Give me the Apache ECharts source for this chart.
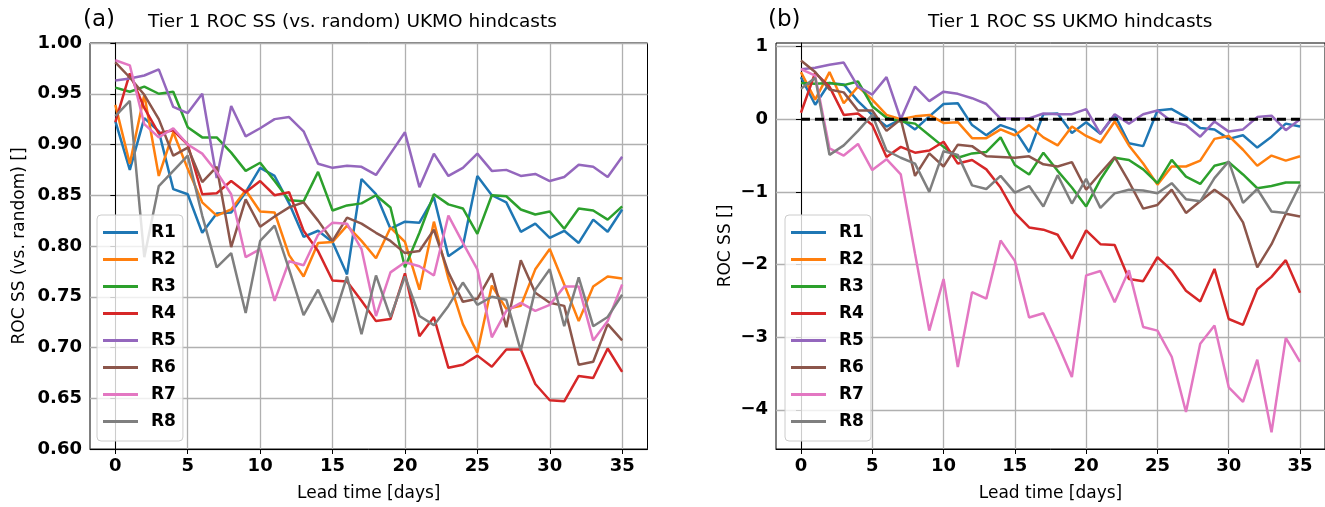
<!DOCTYPE html>
<html><head><meta charset="utf-8">
<script src="https://cdn.jsdelivr.net/npm/echarts@6/dist/echarts.min.js"></script>
<style>html,body{margin:0;padding:0;background:#fff}#c{width:1325px;height:507px}</style>
</head><body><div id="c"></div>
<script>
// ---------------- data ----------------
const lead = [0,1,2,3,4,5,6,7,8,9,10,11,12,13,14,15,16,17,18,19,20,21,22,23,24,25,26,27,28,29,30,31,32,33,34,35];
const seriesNames = ['R1','R2','R3','R4','R5','R6','R7','R8'];
const xTicks = [0,5,10,15,20,25,30,35];
const yTicksA = [0.60,0.65,0.70,0.75,0.80,0.85,0.90,0.95,1.00];
const yTicksB = [-4,-3,-2,-1,0,1];

// panel (a): ROC SS vs random
const a_R1 = [0.923,0.875,0.926,0.913,0.856,0.851,0.813,0.832,0.833,0.853,0.877,0.869,0.842,0.809,0.815,0.804,0.772,0.866,0.851,0.817,0.824,0.823,0.848,0.790,0.800,0.869,0.850,0.843,0.814,0.822,0.808,0.815,0.803,0.826,0.814,0.836];
const a_R2 = [0.939,0.881,0.949,0.869,0.912,0.876,0.843,0.830,0.836,0.855,0.834,0.833,0.791,0.770,0.803,0.804,0.820,0.805,0.788,0.818,0.804,0.757,0.824,0.768,0.723,0.695,0.761,0.738,0.741,0.777,0.797,0.762,0.726,0.760,0.770,0.768];
const a_R3 = [0.956,0.952,0.957,0.950,0.952,0.917,0.907,0.907,0.892,0.874,0.882,0.864,0.845,0.844,0.873,0.835,0.840,0.842,0.850,0.838,0.779,0.813,0.851,0.841,0.837,0.812,0.850,0.849,0.836,0.831,0.834,0.817,0.837,0.835,0.826,0.839];
const a_R4 = [0.922,0.970,0.936,0.911,0.914,0.900,0.851,0.852,0.864,0.853,0.864,0.850,0.853,0.815,0.795,0.766,0.765,0.746,0.726,0.728,0.773,0.711,0.730,0.680,0.683,0.692,0.681,0.698,0.698,0.664,0.648,0.647,0.672,0.670,0.699,0.676];
const a_R5 = [0.963,0.965,0.968,0.974,0.937,0.931,0.950,0.867,0.938,0.908,0.916,0.925,0.927,0.913,0.881,0.877,0.879,0.878,0.870,0.891,0.912,0.858,0.891,0.869,0.877,0.891,0.874,0.875,0.869,0.871,0.864,0.868,0.880,0.878,0.868,0.888];
const a_R6 = [0.981,0.966,0.949,0.925,0.889,0.897,0.863,0.878,0.799,0.846,0.819,0.829,0.838,0.843,0.825,0.805,0.828,0.822,0.813,0.805,0.793,0.795,0.816,0.774,0.745,0.748,0.773,0.720,0.786,0.754,0.744,0.741,0.683,0.686,0.723,0.707];
const a_R7 = [0.983,0.978,0.920,0.907,0.916,0.900,0.891,0.873,0.851,0.789,0.797,0.746,0.785,0.781,0.811,0.823,0.822,0.797,0.731,0.774,0.784,0.780,0.771,0.830,0.803,0.777,0.710,0.736,0.744,0.736,0.742,0.760,0.760,0.707,0.726,0.762];
const a_R8 = [0.928,0.943,0.789,0.859,0.874,0.889,0.830,0.779,0.793,0.734,0.805,0.820,0.777,0.732,0.757,0.725,0.770,0.713,0.771,0.730,0.770,0.731,0.722,0.741,0.764,0.742,0.750,0.747,0.697,0.757,0.777,0.721,0.769,0.721,0.730,0.752];

// panel (b): ROC SS
const b_R1 = [0.58,0.20,0.50,0.48,0.25,0.06,-0.10,0.00,-0.14,0.04,0.21,0.22,-0.08,-0.22,-0.08,-0.15,-0.45,0.07,0.08,-0.19,-0.04,-0.20,0.06,-0.33,-0.37,0.12,0.14,0.03,-0.12,-0.14,-0.27,-0.22,-0.39,-0.24,-0.06,-0.10];
const b_R2 = [0.65,0.27,0.65,0.22,0.45,0.27,0.06,0.00,0.04,0.06,-0.05,-0.04,-0.26,-0.26,-0.14,-0.22,-0.08,-0.25,-0.36,-0.10,-0.23,-0.32,-0.03,-0.36,-0.61,-0.90,-0.65,-0.65,-0.57,-0.27,-0.23,-0.42,-0.64,-0.50,-0.57,-0.51];
const b_R3 = [0.50,0.49,0.50,0.47,0.52,0.18,0.02,-0.03,-0.06,-0.22,-0.38,-0.53,-0.47,-0.45,-0.25,-0.63,-0.76,-0.46,-0.71,-0.94,-1.20,-0.83,-0.53,-0.56,-0.69,-0.88,-0.56,-0.79,-0.89,-0.64,-0.59,-0.76,-0.95,-0.92,-0.87,-0.87];
const b_R4 = [0.09,0.64,0.45,0.06,0.08,-0.08,-0.52,-0.38,-0.46,-0.43,-0.31,-0.61,-0.56,-0.69,-0.94,-1.29,-1.49,-1.52,-1.59,-1.92,-1.53,-1.72,-1.73,-2.20,-2.23,-1.90,-2.08,-2.36,-2.51,-2.06,-2.75,-2.83,-2.34,-2.17,-1.94,-2.39];
const b_R5 = [0.69,0.71,0.75,0.78,0.45,0.34,0.58,0.00,0.45,0.25,0.38,0.35,0.29,0.21,0.01,0.01,0.01,0.08,0.07,0.07,0.14,-0.20,0.07,-0.06,0.07,0.12,-0.03,-0.08,-0.24,-0.03,-0.17,-0.14,0.03,0.05,-0.15,0.00];
const b_R6 = [0.81,0.65,0.41,0.37,0.12,0.12,-0.16,0.00,-0.78,-0.47,-0.65,-0.35,-0.37,-0.51,-0.52,-0.53,-0.51,-0.62,-0.65,-0.59,-0.97,-0.74,-0.52,-0.86,-1.23,-1.18,-0.97,-1.29,-1.13,-0.97,-1.11,-1.42,-2.04,-1.72,-1.30,-1.34];
const b_R7 = [0.69,0.60,-0.40,-0.50,-0.34,-0.70,-0.55,-0.76,-1.85,-2.91,-2.20,-3.41,-2.38,-2.47,-1.67,-1.95,-2.73,-2.67,-3.09,-3.55,-2.15,-2.09,-2.52,-2.08,-2.86,-2.91,-3.27,-4.03,-3.09,-2.84,-3.69,-3.89,-3.31,-4.31,-3.01,-3.34];
const b_R8 = [0.42,0.57,-0.49,-0.36,-0.16,0.06,-0.43,-0.53,-0.61,-1.00,-0.44,-0.49,-0.91,-0.96,-0.78,-1.01,-0.92,-1.20,-0.77,-1.16,-0.82,-1.22,-1.02,-0.97,-0.98,-1.02,-0.88,-1.10,-1.13,-0.81,-0.58,-1.15,-0.96,-1.27,-1.29,-0.90];
const zeroLine = [0,0];

// ---------------- chart ----------------
const panelA = [a_R1,a_R2,a_R3,a_R4,a_R5,a_R6,a_R7,a_R8];
const panelB = [b_R1,b_R2,b_R3,b_R4,b_R5,b_R6,b_R7,b_R8];
const colors = ['#1f77b4','#ff7f0e','#2ca02c','#d62728','#9467bd','#8c564b','#e377c2','#7f7f7f'];
const FF = "'DejaVu Sans', sans-serif";
const minus = v => (v < 0 ? '\u2212' + Math.abs(v) : String(v));

function xAxisCfg(gi) {
  return {
    type: 'value', gridIndex: gi, min: -1.75, max: 36.75,
    name: 'Lead time [days]', nameLocation: 'middle', nameGap: 36,
    nameTextStyle: {fontFamily: FF, fontSize: 17, color: '#000'},
    axisLine: {show: true, onZero: false, lineStyle: {color: '#000', width: 1}},
    axisTick: {show: true, length: 5, customValues: xTicks, lineStyle: {color: '#000', width: 1}},
    axisLabel: {customValues: xTicks, fontFamily: FF, fontSize: 18, fontWeight: 'bold', color: '#000', margin: 8},
    splitLine: {show: true, lineStyle: {color: '#b0b0b0', width: 1.3}}
  };
}
function yAxisCfg(gi, min, max, ticks, fmt, name, gap) {
  return {
    type: 'value', gridIndex: gi, min: min, max: max,
    name: name, nameLocation: 'middle', nameGap: gap, nameRotate: 90,
    nameTextStyle: {fontFamily: FF, fontSize: 17, color: '#000'},
    axisLine: {show: true, lineStyle: {color: '#000', width: 1}},
    axisTick: {show: true, length: 5, customValues: ticks, lineStyle: {color: '#000', width: 1}},
    axisLabel: {customValues: ticks, formatter: fmt, fontFamily: FF, fontSize: 18, fontWeight: 'bold', color: '#000', margin: 8},
    splitLine: {show: true, lineStyle: {color: '#b0b0b0', width: 1.3}}
  };
}
function legendCfg(left) {
  return {
    orient: 'vertical', left: left, top: 215, data: seriesNames,
    icon: 'rect', itemWidth: 35, itemHeight: 3, itemGap: 10,
    padding: [9, 7, 11, 6],
    backgroundColor: 'rgba(255,255,255,0.8)', borderColor: '#cccccc', borderWidth: 1, borderRadius: 4,
    textStyle: {fontFamily: FF, fontSize: 17, fontWeight: 'bold', color: '#000', lineHeight: 17, padding: [0, 0, 0, 8]},
    selectedMode: false
  };
}
const series = [];
seriesNames.forEach((n, k) => {
  series.push({name: n, type: 'line', xAxisIndex: 0, yAxisIndex: 0, symbol: 'none',
    data: lead.map((d, i) => [d, panelA[k][i]]), color: colors[k],
    lineStyle: {width: 2.5, color: colors[k]}, z: 2 + k * 0.01});
});
seriesNames.forEach((n, k) => {
  series.push({name: n, type: 'line', xAxisIndex: 1, yAxisIndex: 1, symbol: 'none',
    data: lead.map((d, i) => [d, panelB[k][i]]), color: colors[k],
    lineStyle: {width: 2.5, color: colors[k]}, z: 2 + k * 0.01});
});
series.push({name: 'zero', type: 'line', xAxisIndex: 1, yAxisIndex: 1, symbol: 'none', silent: true,
  data: [[lead[0], zeroLine[0]], [lead[lead.length - 1], zeroLine[1]]],
  lineStyle: {color: '#000', width: 3, type: [9, 5]}, z: 3});

const option = {
  animation: false,
  backgroundColor: '#fff',
  title: [
    {text: '(a)', left: 83, top: 9, padding: 0, textStyle: {fontFamily: FF, fontSize: 23, fontWeight: 'normal', color: '#000'}},
    {text: 'Tier 1 ROC SS (vs. random) UKMO hindcasts', left: 148, top: 13, padding: 0, textStyle: {fontFamily: FF, fontSize: 18.5, fontWeight: 'normal', color: '#000'}},
    {text: '(b)', left: 768, top: 9, padding: 0, textStyle: {fontFamily: FF, fontSize: 23, fontWeight: 'normal', color: '#000'}},
    {text: 'Tier 1 ROC SS UKMO hindcasts', left: 928, top: 13, padding: 0, textStyle: {fontFamily: FF, fontSize: 18.5, fontWeight: 'normal', color: '#000'}}
  ],
  grid: [
    {left: 90, right: 677.5, top: 43, bottom: 56, show: true, borderColor: '#000', borderWidth: 1, backgroundColor: 'transparent'},
    {left: 776, right: -8.4, top: 43, bottom: 56, show: true, borderColor: '#000', borderWidth: 1, backgroundColor: 'transparent'}
  ],
  xAxis: [xAxisCfg(0), xAxisCfg(1)],
  yAxis: [
    yAxisCfg(0, 0.6, 1.0, yTicksA, v => v.toFixed(2), 'ROC SS (vs. random) []', 62),
    yAxisCfg(1, -4.54, 1.05, yTicksB, minus, 'ROC SS []', 42)
  ],
  legend: [legendCfg(97), legendCfg(785)],
  series: series
};
const chart = echarts.init(document.getElementById('c'), null, {renderer: 'canvas'});
chart.setOption(option);
</script>
</body></html>
